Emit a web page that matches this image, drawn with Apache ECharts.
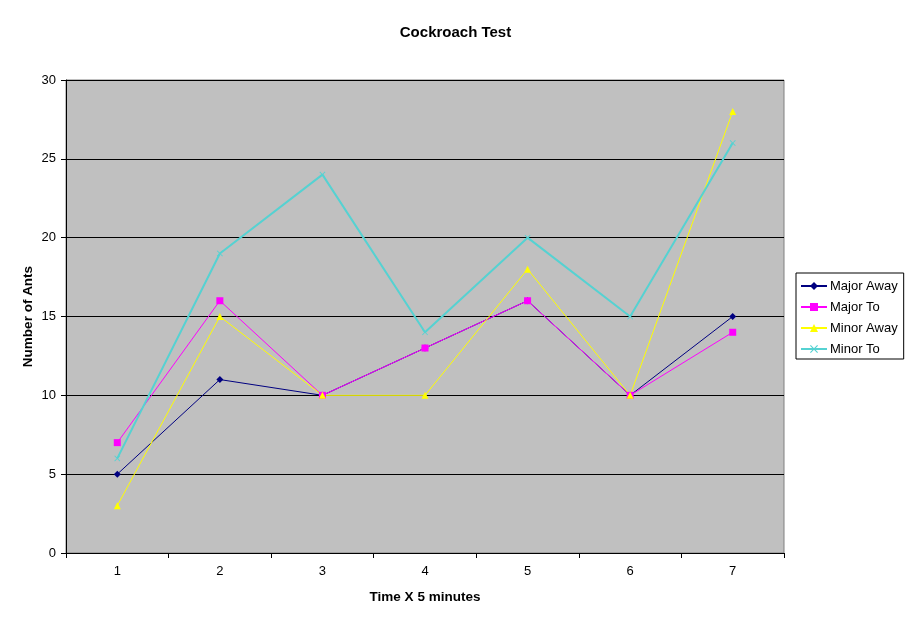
<!DOCTYPE html>
<html>
<head>
<meta charset="utf-8">
<script src="https://cdn.jsdelivr.net/npm/echarts@6/dist/echarts.min.js"></script>
<style>
html,body{margin:0;padding:0;background:#fff;}
#chart{width:911px;height:623px;}
</style>
</head>
<body>
<div id="chart"></div>
<script>
var categories = ['1','2','3','4','5','6','7'];
var majorAway = [5, 11, 10, 13, 16, 10, 15];
var majorTo = [7, 16, 10, 13, 16, 10, 14];
var minorAway = [3, 15, 10, 10, 18, 10, 28];
var minorTo = [6, 19, 24, 14, 20, 15, 26];
var yTicks = {min: 0, max: 30, interval: 5};

var xPath = 'path://M0,1L1,0L5,4L9,0L10,1L6,5L10,9L9,10L5,6L1,10L0,9L4,5Z';
var font = 'Arial, "Liberation Sans", sans-serif';

var chart = echarts.init(document.getElementById('chart'));
function s(name, data, color, symbol, size, width) {
  return {
    name: name, type: 'line', data: data, symbol: symbol, symbolSize: size,
    lineStyle: {color: color, width: width},
    itemStyle: {color: color},
    emphasis: {disabled: true},
    animation: false
  };
}
chart.setOption({
  backgroundColor: '#ffffff',
  title: {
    text: 'Cockroach Test', left: 'center', top: 20,
    textStyle: {fontFamily: font, fontSize: 15, fontWeight: 'bold', color: '#000'}
  },
  legend: {
    orient: 'vertical', left: 796, top: 273,
    backgroundColor: '#fff', borderColor: '#000', borderWidth: 1,
    padding: [6, 6, 3, 4], itemGap: 7, itemWidth: 26, itemHeight: 10,
    textStyle: {fontFamily: font, fontSize: 13, color: '#000', padding: [0,0,0,-2], lineHeight: 14},
    data: ['Major Away', 'Major To', 'Minor Away', 'Minor To']
  },
  grid: {left: 66, right: 127, top: 80, bottom: 70, show: true,
    backgroundColor: '#c0c0c0', borderColor: '#808080', borderWidth: 1},
  xAxis: {
    type: 'category', data: categories, boundaryGap: true,
    name: 'Time X 5 minutes', nameLocation: 'middle', nameGap: 37,
    nameTextStyle: {fontFamily: font, fontSize: 13.5, fontWeight: 'bold', color: '#000'},
    axisLine: {lineStyle: {color: '#000', width: 1}},
    axisTick: {show: true, length: 5, lineStyle: {color: '#000'}},
    axisLabel: {fontFamily: font, fontSize: 13, color: '#000', margin: 12}
  },
  yAxis: {
    type: 'value', min: yTicks.min, max: yTicks.max, interval: yTicks.interval,
    name: 'Number of Ants', nameLocation: 'middle', nameGap: 31, nameMoveOverlap: false,
    nameTextStyle: {fontFamily: font, fontSize: 13.5, fontWeight: 'bold', color: '#000'},
    axisLine: {show: true, lineStyle: {color: '#000', width: 1}},
    axisTick: {show: true, length: 5, lineStyle: {color: '#000'}},
    axisLabel: {fontFamily: font, fontSize: 13, color: '#000', margin: 10},
    splitLine: {show: true, lineStyle: {color: '#000', width: 1}}
  },
  series: [
    s('Major Away', majorAway, '#000080', 'diamond', 7, 1),
    s('Major To', majorTo, '#ff00ff', 'rect', 7, 1),
    s('Minor Away', minorAway, '#ffff00', 'triangle', 7, 1),
    s('Minor To', minorTo, '#55d2d2', xPath, 6, 2)
  ]
});
</script>
</body>
</html>
